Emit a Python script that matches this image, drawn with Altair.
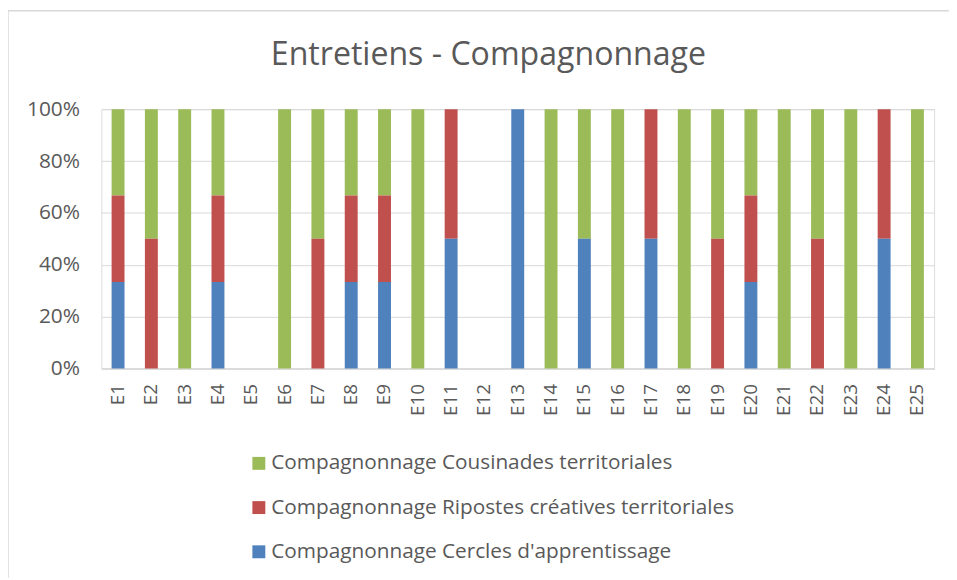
import altair as alt
import pandas as pd

categories = [f"E{i}" for i in range(1, 26)]
series = [
    "Compagnonnage Cousinades territoriales",
    "Compagnonnage Ripostes créatives territoriales",
    "Compagnonnage Cercles d'apprentissage",
]
colors = ["#9BBB59", "#C0504D", "#4F81BD"]
stack_rank = [2, 1, 0]

cousinades = [1, 1, 1, 1, 0, 1, 1, 1, 1, 1, 0, 0, 0, 1, 1, 1, 0, 1, 1, 1, 1, 1, 1, 0, 1]
ripostes = [1, 1, 0, 1, 0, 0, 1, 1, 1, 0, 1, 0, 0, 0, 0, 0, 1, 0, 1, 1, 0, 1, 0, 1, 0]
cercles = [1, 0, 0, 1, 0, 0, 0, 1, 1, 0, 1, 0, 1, 0, 1, 0, 1, 0, 0, 1, 0, 0, 0, 1, 0]

rows = []
for s, vals, rk in zip(series, [cousinades, ripostes, cercles], stack_rank):
    for c, v in zip(categories, vals):
        if v > 0:
            rows.append({"cat": c, "serie": s, "val": v, "rk": rk})
df = pd.DataFrame(rows)

TXT = "#595959"
FONT = "Open Sans"

bars = alt.Chart(df).mark_bar(size=13).encode(
    x=alt.X("cat:N", sort=categories, scale=alt.Scale(domain=categories, paddingInner=0, paddingOuter=0),
            axis=alt.Axis(title=None, labelAngle=270, labelAlign="right", labelBaseline="middle",
                          labelPadding=15, ticks=False, domainColor="#D9D9D9", domainWidth=1.5,
                          labelFontSize=19, labelColor=TXT, labelFont=FONT, grid=False)),
    y=alt.Y("val:Q", stack="normalize",
            scale=alt.Scale(domain=[0, 1]),
            axis=alt.Axis(title=None, format=".0%", values=[0, 0.2, 0.4, 0.6, 0.8, 1.0],
                          ticks=False, domain=False, labelPadding=22, gridColor="#D9D9D9",
                          labelFontSize=21, labelColor=TXT, labelFont=FONT)),
    color=alt.Color("serie:N", scale=alt.Scale(domain=series, range=colors),
                    legend=alt.Legend(title=None, orient="none", legendX=148, legendY=346,
                                      direction="vertical", symbolType="square", symbolSize=169,
                                      symbolStrokeWidth=0, labelFontSize=20.9, labelColor=TXT,
                                      labelFont=FONT, rowPadding=22.5, labelOffset=2,
                                      labelLimit=700)),
    order=alt.Order("rk:Q", sort="ascending"),
)

frame_top = alt.Chart(pd.DataFrame({"a": [0]})).mark_rule(color="#D9D9D9", strokeWidth=1.5, clip=False).encode(
    x=alt.value(-94), x2=alt.value(860), y=alt.value(-99)
)
frame_left = alt.Chart(pd.DataFrame({"a": [0]})).mark_rule(color="#D9D9D9", strokeWidth=1.5, clip=False).encode(
    x=alt.value(-94), y=alt.value(-99), y2=alt.value(480)
)

chart = alt.layer(frame_top, frame_left, bars).properties(
    width=838, height=261,
    autosize=alt.AutoSizeParams(type="none"),
    padding={"left": 94, "top": 100, "right": 15, "bottom": 209},
    title=alt.TitleParams("Entretiens - Compagnonnage", fontSize=32.3, font=FONT, fontWeight="normal",
                          color=TXT, anchor="middle", frame="group", dx=-29.5, offset=-87.5,
                          baseline="alphabetic"),
).configure_view(stroke=None).configure(background="white")

chart.save("out.html", embed_options={"renderer": "svg", "actions": False})
